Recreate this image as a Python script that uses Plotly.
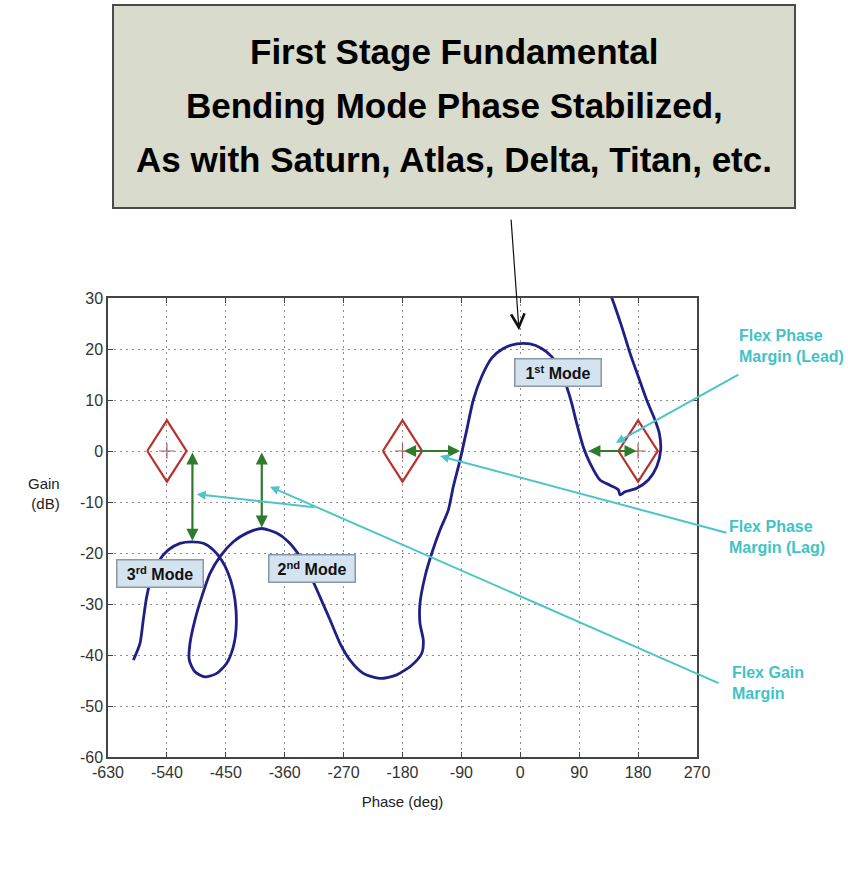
import plotly.graph_objects as go

# ---------------- data ----------------
phase_deg = [-591.3, -581.1, -576.1, -570.9, -563.2, -553.1, -537.9, -520.0, -502.1, -484.4,
             -469.1, -456.3, -446.2, -438.5, -434.4, -434.4, -438.5, -448.6, -463.9, -481.8,
             -497.1, -505.8, -504.7, -497.1, -486.8, -474.1, -458.9, -438.5, -418.1, -395.1,
             -372.2, -354.5, -336.6, -321.3, -306.1, -290.8, -275.5, -260.2, -239.9, -214.4,
             -188.9, -165.9, -150.7, -148.2, -153.3, -153.3, -145.6, -135.4, -122.7, -110.0,
             -102.4, -92.1, -81.9, -71.8, -59.0, -43.7, -26.0, -5.5, 14.8, 32.7,
             48.0, 60.7, 70.9, 78.5, 86.2, 96.3, 106.5, 121.8, 137.0, 149.8,
             152.4, 160.0, 177.9, 195.6, 208.4, 214.5, 212.4, 205.8, 193.1, 180.3,
             167.6, 155.0, 144.7, 137.0]
gain_db = [-41.0, -37.7, -33.1, -28.6, -24.6, -21.7, -19.4, -18.1, -17.8, -18.1,
           -19.4, -21.4, -24.0, -27.3, -31.2, -35.1, -38.4, -41.6, -43.6, -44.3,
           -43.3, -41.0, -37.7, -33.1, -28.6, -24.0, -20.7, -17.8, -16.1, -15.2,
           -16.1, -17.8, -20.7, -24.3, -28.6, -33.1, -37.7, -41.0, -43.6, -44.6,
           -43.9, -42.0, -39.7, -37.1, -33.8, -29.9, -24.6, -20.1, -15.5, -11.6,
           -7.0, -1.8, 4.1, 10.0, 14.6, 18.2, 20.1, 21.0, 21.0, 20.1,
           18.5, 15.9, 12.6, 9.4, 5.4, 0.8, -2.4, -5.7, -6.7, -7.6,
           -8.6, -8.0, -7.3, -5.7, -3.1, 0.2, 3.5, 6.1, 10.0, 14.6,
           19.2, 24.4, 28.3, 31.0]

x_ticks = [-630, -540, -450, -360, -270, -180, -90, 0, 90, 180, 270]
y_ticks = [-60, -50, -40, -30, -20, -10, 0, 10, 20, 30]

critical_phase = [-540, -180, 180]     # diamond centres (deg)
phase_margin = 30                       # diamond half width (deg)
gain_margin = 6                         # diamond half height (dB)

gm_phase = [-501, -395]                 # gain-margin arrows
gm_peak = [-17.6, -15.0]
lag_arrow = [-180, -92]
lead_arrow = [180, 104]

mode_text = ["1<sup>st</sup> Mode", "2<sup>nd</sup> Mode", "3<sup>rd</sup> Mode"]
mode_phase = [57.7, -319.0, -551.3]
mode_gain = [15.3, -23.0, -24.0]

title_lines = ["First Stage Fundamental",
               "Bending Mode Phase Stabilized,",
               "As with Saturn, Atlas, Delta, Titan, etc."]

# ---------------- layout helpers (pixel -> paper) ----------------
FW, FH = 848, 880
L, R, T, B = 108, 697, 298, 757
PW, PH = R - L, B - T


def pxx(px):
    return (px - L) / PW


def pxy(py):
    return (B - py) / PH


CYAN = "#4cc5c8"
GREEN = "#2e7b2e"
RED = "#b8312b"
NAVY = "#1f1f86"

fig = go.Figure()

# diamonds
for c in critical_phase:
    fig.add_trace(go.Scatter(
        x=[c - phase_margin, c, c + phase_margin, c, c - phase_margin],
        y=[0, gain_margin, 0, -gain_margin, 0],
        mode="lines", line=dict(color=RED, width=2.2),
        hoverinfo="skip", showlegend=False))
fig.add_trace(go.Scatter(
    x=critical_phase, y=[0] * len(critical_phase), mode="markers",
    marker=dict(symbol="cross-thin", size=11, line=dict(color="#a06060", width=1.2)),
    hoverinfo="skip", showlegend=False))

# Nichols curve
fig.add_trace(go.Scatter(
    x=phase_deg, y=gain_db, mode="lines",
    line=dict(color=NAVY, width=2.8, shape="spline", smoothing=0.7),
    showlegend=False, name="Nichols"))

annotations = []

# green margin arrows
for xp, pk in zip(gm_phase, gm_peak):
    annotations.append(dict(x=xp, y=pk, ax=xp, ay=0, xref="x", yref="y", axref="x", ayref="y",
                            text="", showarrow=True, arrowhead=2, startarrowhead=2,
                            arrowside="end+start", arrowsize=1.1, arrowwidth=2.2,
                            arrowcolor=GREEN))
for a0, a1 in [lag_arrow, lead_arrow]:
    annotations.append(dict(x=a1, y=0, ax=a0, ay=0, xref="x", yref="y", axref="x", ayref="y",
                            text="", showarrow=True, arrowhead=2, startarrowhead=2,
                            arrowside="end+start", arrowsize=1.1, arrowwidth=2.2,
                            arrowcolor=GREEN))

# mode labels
for t, xm, ym in zip(mode_text, mode_phase, mode_gain):
    annotations.append(dict(x=xm, y=ym, xref="x", yref="y", text="<b>" + t + "</b>",
                            showarrow=False, font=dict(family="Liberation Sans, Arial", size=16,
                                                       color="#111"),
                            bgcolor="#d3e3ef", bordercolor="#8b97a3", borderwidth=1.5,
                            borderpad=3, width=79, height=20))

# cyan leader lines (head in data, tail offset in px)
leaders = [
    dict(x=146, y=1.6, ax=124, ay=-69),
    dict(x=-122.7, y=-1.0, ax=288, ay=77),
    dict(x=-382.5, y=-7.0, ax=450, ay=197),
    dict(x=-494.5, y=-8.5, ax=119, ay=13),
]
for ld in leaders:
    annotations.append(dict(x=ld["x"], y=ld["y"], ax=ld["ax"], ay=ld["ay"], xref="x", yref="y",
                            text="", showarrow=True, arrowhead=2, arrowsize=0.9,
                            arrowwidth=2, arrowcolor=CYAN))

# cyan texts
cyan_texts = [("Flex Phase<br>Margin (Lead)", 737, 346),
              ("Flex Phase<br>Margin (Lag)", 727, 537),
              ("Flex Gain<br>Margin", 730, 683)]
for t, px, py in cyan_texts:
    annotations.append(dict(x=pxx(px), y=pxy(py), xref="paper", yref="paper", text="<b>" + t + "</b>",
                            showarrow=False, xanchor="left", yanchor="middle", align="left",
                            font=dict(family="Liberation Sans, Arial", size=16, color="#3fc3c6")))

# y axis label
annotations.append(dict(x=pxx(62), y=pxy(493), xref="paper", yref="paper", text="Gain<br>(dB)",
                        showarrow=False, xanchor="right", yanchor="middle", align="right",
                        font=dict(family="Liberation Sans, Arial", size=15, color="#222")))

# title box text
for i, line in enumerate(title_lines):
    annotations.append(dict(x=pxx(454), y=pxy(52 + 54 * i), xref="paper", yref="paper",
                            text="<b>" + line + "</b>", showarrow=False,
                            xanchor="center", yanchor="middle",
                            font=dict(family="Liberation Sans, Arial", size=35, color="#000")))

# black pointer arrow to 1st mode peak
annotations.append(dict(x=-2, y=23.7, ax=-8, ay=-112, xref="x", yref="y", text="",
                        showarrow=True, arrowhead=5, arrowsize=2.2, arrowwidth=1.2,
                        arrowcolor="#111"))

shapes = [dict(type="rect", xref="paper", yref="paper",
               x0=pxx(113), x1=pxx(795), y0=pxy(208), y1=pxy(5),
               fillcolor="#d9dbcd", line=dict(color="#4a4a4a", width=2), layer="below")]

axis_common = dict(showline=True, linecolor="#444", linewidth=1.5, mirror="ticks",
                   ticks="inside", ticklen=5, tickcolor="#444", showgrid=True,
                   gridcolor="#8c8c8c", griddash="2px,4px", gridwidth=1.3, zeroline=False,
                   tickfont=dict(family="Liberation Sans, Arial", size=16, color="#333"))

fig.update_layout(
    width=FW, height=FH,
    margin=dict(l=L, r=FW - R, t=T, b=FH - B),
    paper_bgcolor="white", plot_bgcolor="white",
    showlegend=False,
    xaxis=dict(range=[-630, 270], tickvals=x_ticks, ticktext=[str(v) for v in x_ticks],
               title=dict(text="Phase (deg)", standoff=17,
                          font=dict(family="Liberation Sans, Arial", size=15, color="#222")),
               **axis_common),
    yaxis=dict(range=[-60, 30], tickvals=y_ticks, ticktext=[str(v) for v in y_ticks],
               **axis_common),
    annotations=annotations,
    shapes=shapes,
)

fig.write_html("out.html", config={"displayModeBar": False},
               post_script="document.body.style.margin='0';")
